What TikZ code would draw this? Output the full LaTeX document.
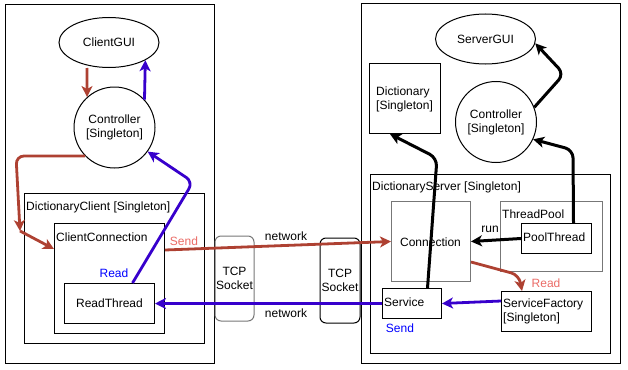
\documentclass[tikz,border=0pt]{standalone}
\usepackage{fontspec}
\setmainfont{Liberation Sans}
\usetikzlibrary{arrows.meta,shapes.geometric,calc}

\definecolor{sendred}{HTML}{AE4132}
\definecolor{readblue}{HTML}{3700CC}
\definecolor{redtext}{HTML}{EA6B66}
\definecolor{bluetext}{HTML}{0000FF}
\definecolor{softgray}{HTML}{777777}

\begin{document}
\begin{tikzpicture}[x=1pt,y=-1pt,
  every node/.style={font=\fontsize{12}{14}\selectfont, inner sep=0pt},
  box/.style={draw, line width=1pt, rectangle, anchor=north west},
  graybox/.style={box, draw=softgray},
  oval/.style={draw, line width=1pt, ellipse, minimum width=100pt, minimum height=50pt},
  roundnode/.style={draw, line width=1pt, circle, minimum size=81pt, align=center},
  socket/.style={draw, line width=1pt, rounded corners=6pt, align=center},
  tag/.style={anchor=west, align=left},
  tip/.style={-{Stealth[length=11pt,width=11pt,inset=3pt]}},
  redarrow/.style={tip, draw=sendred, line width=2.8pt, rounded corners=8pt},
  bluearrow/.style={tip, draw=readblue, line width=2.8pt, rounded corners=8pt},
  blackarrow/.style={tip, draw=black, line width=3pt, rounded corners=8pt}
]
\useasboundingbox (0,0) rectangle (628,369);

% ---------- client side ----------
\node[box, minimum width=209pt, minimum height=359pt] (clientside) at (5,4) {};
\node[oval] (clientgui) at (109,42.5) {ClientGUI};
\node[roundnode] (cctrl) at (114.5,127.5) {Controller\\{[}Singleton]};
\node[box, minimum width=180pt, minimum height=150pt] (dclient) at (24,193) {};
\node[tag] (dclientlbl) at (26,207) {DictionaryClient [Singleton]};
\node[box, minimum width=110pt, minimum height=110pt] (cconn) at (54,223) {};
\node[tag] (cconnlbl) at (56,237) {ClientConnection};
\node[box, minimum width=90pt, minimum height=40pt] (readthread) at (64,283) {};
\node (readthreadlbl) at (109.5,303) {ReadThread};
\node[text=bluetext] (readlbl) at (114,273) {Read};

% ---------- sockets ----------
\node[socket, draw=softgray, minimum width=39pt, minimum height=85pt] (sockc) at (234.5,278.5) {TCP\\Socket};
\node[socket, minimum width=40pt, minimum height=85pt] (socks) at (340,280.5) {TCP\\Socket};
\node (nettop) at (286,236) {network};
\node (netbot) at (286,313) {network};
\node[text=redtext] (sendlbl) at (184,241) {Send};

% ---------- server side ----------
\node[box, minimum width=259pt, minimum height=360pt] (serverside) at (361,3) {};
\node[oval] (servergui) at (485.5,39) {ServerGUI};
\node[box, minimum width=71pt, minimum height=70pt] (dict) at (369,63) {};
\node[tag] (dictlbl) at (376,99) {Dictionary\\{[}Singleton]};
\node[roundnode] (sctrl) at (496,122) {Controller\\{[}Singleton]};
\node[box, minimum width=240pt, minimum height=179pt] (dserver) at (370,174) {};
\node[tag] (dserverlbl) at (372,187) {DictionaryServer [Singleton]};
\node[graybox, minimum width=79pt, minimum height=80pt] (conn) at (391,201) {};
\node (connlbl) at (430.5,242) {Connection};
\node[graybox, minimum width=102pt, minimum height=70pt] (tpool) at (500,201) {};
\node[tag] (tpoollbl) at (502,214) {ThreadPool};
\node[box, fill=white, minimum width=70pt, minimum height=30pt] (pthread) at (521,223) {};
\node[tag] (pthreadlbl) at (523,237.5) {PoolThread};
\node (runlbl) at (490,229) {run};
\node[box, minimum width=59pt, minimum height=30pt] (service) at (382,288) {};
\node[tag] (servicelbl) at (384,302) {Service};
\node[text=bluetext] (sendlbl2) at (400,328) {Send};
\node[box, minimum width=90pt, minimum height=40pt] (sfactory) at (501,291) {};
\node[tag] (sfactorylbl) at (503,311.5) {ServiceFactory\\{[}Singleton]};
\node[text=redtext] (readlbl2) at (546,283) {Read};

% ---------- client connectors ----------
\draw[redarrow] ([xshift=-22pt]clientgui.south) -- (cctrl.132.5);
\draw[bluearrow] (cctrl.43) -- (clientgui.-26);
\coordinate (leftbend) at (16,156);
\coordinate (split) at (20,231);
\draw[redarrow] (cctrl.224) -- (leftbend) -- (split);
\draw[redarrow] (split) -- ($(cconn.north west)+(0,26)$);
\coordinate (readbend) at (193,182);
\draw[bluearrow] ([xshift=23pt]readthread.north) -- (readbend) -- (cctrl.-36);

% ---------- network connectors ----------
\draw[redarrow] ($(cconn.north east)+(0,27)$) -- (conn.west);
\draw[bluearrow] (service.west) -- (readthread.east);

% ---------- server connectors ----------
\draw[blackarrow] (pthread.west) -- (conn.east);
\coordinate (dictbend) at (437,158);
\draw[blackarrow] ([xshift=15.5pt]service.north) -- (dictbend) -- ($(dict.south west)+(21,0)$);
\coordinate (poolbend) at (573,150);
\draw[blackarrow] ([xshift=17pt]pthread.north) -- (poolbend) -- (sctrl.-25);
\coordinate (guibend) at (564,74);
\draw[blackarrow] (sctrl.21) -- (guibend) -- (servergui.-5);
\coordinate (readbend2) at (519,275);
\draw[redarrow] ($(conn.south east)+(0,-20)$) -- (readbend2) -- ($(sfactory.north west)+(21,0)$);
\draw[bluearrow] ($(sfactory.north west)+(0,10)$) -- (service.east);

\end{tikzpicture}
\end{document}
